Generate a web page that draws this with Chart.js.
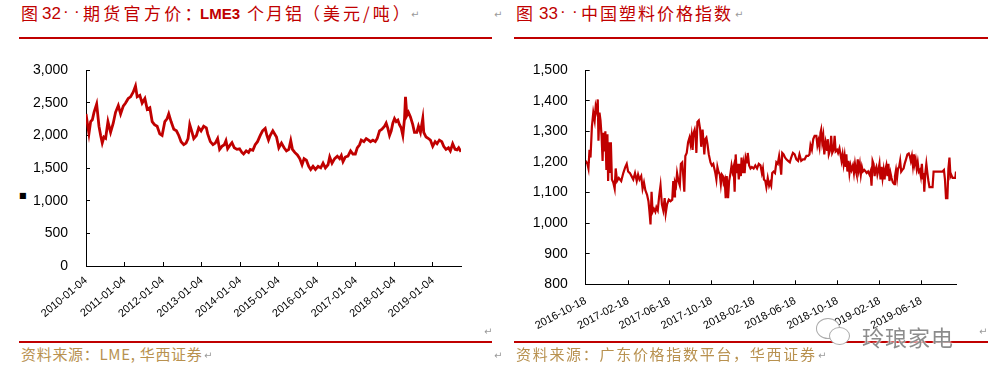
<!DOCTYPE html>
<html><head><meta charset="utf-8">
<script src="https://cdn.jsdelivr.net/npm/chart.js@4.4.1/dist/chart.umd.min.js"></script>
<style>
html,body{margin:0;padding:0;background:#fff;}
body{width:989px;height:379px;position:relative;overflow:hidden;font-family:'Noto Sans CJK SC',sans-serif;}
.abs{position:absolute;white-space:nowrap;}
.t{position:absolute;white-space:nowrap;color:#C00000;font-size:17px;line-height:20px;top:3px;}
.tl{font-family:'Liberation Sans',Arial,sans-serif;}
.rule{position:absolute;height:2px;background:#C00000;}
.src{color:#B8914F;font-size:15px;line-height:18px;top:345px;}
.mark{position:absolute;color:#9a9a9a;font:10px 'DejaVu Sans',sans-serif;line-height:10px;}
canvas{position:absolute;}
</style></head><body>

<span class="t" style="left:21px">图</span>
<span class="t tl" style="left:42px;top:4px">32</span>
<span class="t tl" style="left:63px;top:2px">·</span>
<span class="t tl" style="left:74px;top:2px">·</span>
<span class="t" style="left:83px;letter-spacing:3.3px">期货官方价：</span>
<span class="t tl" style="left:200px;top:4px;font-size:15px;font-weight:bold">LME3</span>
<span class="t" style="left:247px;letter-spacing:2px">个月铝</span>
<span class="t" style="left:303px;letter-spacing:3px">（美元/吨）</span>

<span class="t" style="left:516px">图</span>
<span class="t tl" style="left:539px;top:4px">33</span>
<span class="t tl" style="left:560px;top:2px">·</span>
<span class="t tl" style="left:572px;top:2px">·</span>
<span class="t" style="left:581px;letter-spacing:2px">中国塑料价格指数</span>

<span class="mark" style="left:411px;top:10px">↵</span>
<span class="mark" style="left:494px;top:10px">↵</span>
<span class="mark" style="left:735px;top:10px">↵</span>
<div class="rule" style="left:19px;width:473px;top:37px"></div>
<div class="rule" style="left:514px;width:474px;top:37px"></div>

<span class="abs" style="left:19px;top:191px;font:8px 'DejaVu Sans';color:#000">■</span>

<canvas id="c1" width="495" height="300" style="left:0;top:40px"></canvas>
<canvas id="c2" width="489" height="300" style="left:500px;top:40px"></canvas>

<div class="rule" style="left:19px;width:473px;top:341px"></div>
<div class="rule" style="left:514px;width:474px;top:341px"></div>
<span class="mark" style="left:484px;top:327px">↵</span>
<span class="mark" style="left:979px;top:327px">↵</span>
<div class="abs src" style="left:21px;letter-spacing:0.7px">资料来源：LME, 华西证券</div>
<div class="abs src" style="left:516px;letter-spacing:1.7px">资料来源：广东价格指数平台，华西证券</div>
<span class="mark" style="left:204px;top:351px">↵</span>
<span class="mark" style="left:818px;top:351px">↵</span>
<span class="mark" style="left:494px;top:351px">↵</span>

<div style="position:absolute;left:816px;top:318px;width:22px;height:19px;border:1.5px solid #aaa;border-radius:50%;background:#fff;"></div>
<div style="position:absolute;left:829px;top:327px;width:19px;height:16px;border:1.5px solid #aaa;border-radius:50%;background:#fff;"></div>
<div class="abs" style="left:862px;top:323px;font-size:22px;line-height:26px;color:#8c8c8c;letter-spacing:1px;text-shadow:0 0 2px #fff,0 0 2px #fff;">玲琅家电</div>

<script>
// ---- Chart 1: LME 3-month aluminium (USD/t) ----
const alDates = [
'2010-01-04','2010-02-01','2010-02-17','2010-03-05','2010-03-21','2010-04-15','2010-05-07','2010-05-23','2010-06-07','2010-06-23',
'2010-07-09','2010-07-31','2010-08-25','2010-09-19','2010-10-11','2010-11-06','2010-11-28','2010-12-23','2011-01-14','2011-02-08',
'2011-03-02','2011-03-27','2011-04-18','2011-05-04','2011-05-29','2011-06-20','2011-07-16','2011-08-07','2011-09-01','2011-09-23',
'2011-10-15','2011-11-09','2011-12-04','2011-12-26','2012-01-21','2012-02-12','2012-02-27','2012-03-20','2012-04-15','2012-05-10',
'2012-06-01','2012-06-23','2012-07-18','2012-08-09','2012-08-28','2012-09-13','2012-10-05','2012-10-21','2012-11-15','2012-12-07',
'2012-12-29','2013-01-23','2013-02-17','2013-03-02','2013-03-27','2013-04-21','2013-05-13','2013-06-04','2013-06-23','2013-07-15',
'2013-08-06','2013-08-22','2013-09-07','2013-10-02','2013-10-18','2013-11-09','2013-12-04','2013-12-29','2014-01-20','2014-02-05',
'2014-03-02','2014-03-24','2014-04-09','2014-05-04','2014-05-26','2014-06-17','2014-07-13','2014-08-04','2014-08-29','2014-09-14',
'2014-09-29','2014-10-15','2014-11-09',
'2014-12-14','2015-01-05','2015-01-30','2015-02-24','2015-03-18','2015-04-10','2015-04-28','2015-05-14','2015-06-05','2015-06-30',
'2015-07-22','2015-08-13','2015-09-01','2015-09-23','2015-10-15','2015-11-03','2015-11-25','2015-12-18','2016-01-12','2016-02-06',
'2016-02-28','2016-03-21','2016-04-15','2016-05-01','2016-05-23','2016-06-17','2016-07-12','2016-08-03','2016-08-19','2016-09-04',
'2016-09-26','2016-10-21','2016-11-15','2016-12-07','2016-12-30','2017-01-17','2017-02-08','2017-02-24','2017-03-21','2017-04-12',
'2017-05-04','2017-05-23','2017-06-14','2017-07-07','2017-07-25','2017-08-16','2017-09-08','2017-10-03','2017-10-18','2017-11-03',
'2017-11-19','2017-12-05','2017-12-20','2018-01-05','2018-01-21','2018-02-06','2018-02-21','2018-03-09','2018-03-25','2018-04-10',
'2018-04-19','2018-05-02','2018-05-17','2018-06-05','2018-06-27','2018-07-13','2018-08-04','2018-08-20','2018-09-08','2018-09-30',
'2018-10-09','2018-10-31','2018-11-23','2018-12-11','2019-01-02','2019-01-25','2019-02-12','2019-03-06','2019-03-29','2019-04-16',
'2019-05-08','2019-05-31','2019-06-18','2019-07-10','2019-08-02','2019-08-20','2019-09-05','2019-09-27'];
const alValues = [
2330,2030,2215,2243,2357,2485,2144,2002,1888,1978,
1960,2215,2050,2190,2357,2461,2333,2452,2499,2570,
2594,2665,2760,2594,2617,2499,2570,2404,2428,2215,
2168,2144,2026,2002,2215,2262,2333,2215,2097,2073,
2002,1907,1860,1884,1955,2168,2050,1955,2002,2120,
2073,2144,2120,2026,1907,1860,1884,1955,1789,1836,
1860,1922,1798,1860,1893,1813,1789,1798,1742,1718,
1765,1742,1789,1775,1860,1907,2002,2073,2111,2002,
1931,2002,2073,
1978,1813,1884,1813,1765,1789,1922,1789,1742,1704,
1647,1553,1647,1623,1529,1481,1529,1481,1529,1505,
1576,1505,1553,1671,1576,1647,1685,1647,1694,1600,
1671,1685,1765,1718,1718,1813,1860,1931,1907,1955,
1931,1907,1931,1907,1955,2073,2097,2144,2191,2111,
2002,2073,2191,2262,2215,2238,2168,2120,2002,2262,
2594,2309,2357,2286,2168,2050,2050,2144,2050,2262,
2050,1978,1955,1931,1836,1907,1875,1931,1907,1836,
1789,1813,1765,1875,1789,1780,1813,1751];
const alTickLabels = ['2010-01-04','2011-01-04','2012-01-04','2013-01-04','2014-01-04','2015-01-04','2016-01-04','2017-01-04','2018-01-04','2019-01-04'];

// ---- Chart 2: China plastics price index ----
const plBaseDate = '2016-10-18';
const plDays = [
0,5,8,11,14,18,22,26,29,32,35,37,40,43,46,49,51,54,57,60,
63,65,68,70,73,76,80,84,87,91,96,103,109,115,119,123,128,133,138,143,
148,152,156,161,165,169,173,178,182,185,188,191,194,198,202,205,209,213,217,221,
225,229,232,236,241,246,251,254,257,259,262,265,269,273,276,280,283,286,289,293,
297,301,304,307,310,313,316,319,321,324,328,332,335,339,342,344,347,350,353,357,
362,366,370,373,376,379,382,385,389,392,395,398,400,403,406,409,413,416,420,423,
426,429,432,435,438,441,444,447,450,452,455,458,461,464,468,470,474,478,482,487,
492,497,502,507,511,514,517,521,524,528,532,535,
538,541,545,549,553,557,561,564,567,570,574,578,582,587,592,596,601,606,611,616,
620,625,630,635,640,645,649,652,656,660,664,669,672,675,678,681,683,686,689,692,
696,700,702,705,709,712,715,719,722,725,729,732,736,739,742,745,748,751,754,756,
759,762,765,768,771,775,778,781,784,786,789,792,795,798,801,804,808,812,815,819,
823,826,829,832,835,838,840,843,846,849,852,855,858,861,864,867,869,872,875,878,
881,884,887,891,895,897,900,903,906,909,912,915,918,922,925,929,933,937,940,943,
946,949,952,954,957,960,963,966,969,972,975,978,980,982,985,988,991,994,997,1006,
1009,1035,1039,1042,1045,1049,1052,1055,1058,1060,1064,1069,1072,1074];
const plValues = [
1204,1194,1179,1240,1215,1316,1362,1336,1382,1367,1405,1270,1362,1336,1286,1204,1296,1235,1301,1174,
1291,1138,1265,1164,1265,1143,1133,1113,1179,1138,1148,1138,1164,1184,1194,1169,1164,1154,1143,1164,
1138,1159,1143,1154,1113,1133,1108,1093,1072,1037,996,1103,1037,1047,1037,1052,1042,1088,1123,1062,
1042,1082,1032,1062,1077,1072,1077,1138,1088,1133,1123,1164,1138,1123,1194,1199,1154,1103,1220,1230,
1265,1280,1260,1286,1240,1296,1306,1280,1230,1331,1336,1306,1250,1306,1260,1225,1275,1280,1260,1225,
1199,1189,1194,1179,1164,1143,1184,1169,1159,1128,1159,1154,1133,1143,1082,1154,1082,1138,1164,1189,
1169,1184,1103,1225,1164,1194,1143,1194,1154,1215,1164,1194,1164,1215,1199,1230,1189,1179,1184,1179,
1189,1179,1194,1189,1164,1179,1143,1138,1118,1148,1123,1133,
1123,1164,1169,1164,1199,1194,1220,1194,1159,1230,1225,1215,1209,1204,1199,1215,1230,1225,1209,1204,
1225,1204,1209,1209,1220,1220,1225,1255,1240,1275,1286,1286,1255,1270,1250,1296,1306,1265,1286,1225,
1265,1240,1275,1225,1240,1286,1230,1240,1286,1235,1240,1230,1245,1225,1204,1225,1194,1220,1184,1225,
1169,1204,1164,1189,1174,1189,1164,1194,1169,1159,1209,1174,1194,1159,1184,1169,1174,1169,1164,1169,
1159,1169,1123,1204,1194,1154,1174,1184,1159,1174,1194,1143,1184,1148,1174,1143,1174,1189,1154,1194,
1138,1164,1148,1133,1128,1154,1174,1148,1179,1184,1204,1169,1174,1179,1194,1209,1225,1228,1220,1204,
1220,1189,1225,1194,1209,1179,1199,1169,1174,1154,1194,1143,1164,1103,1164,1194,1164,1138,1118,1118,
1169,1169,1174,1143,1082,1082,1179,1215,1154,1159,1148,1148,1148,1169];
const plTickLabels = ['2016-10-18','2017-02-18','2017-06-18','2017-10-18','2018-02-18','2018-06-18','2018-10-18','2019-02-18','2019-06-18'];

const DAY = 86400000;
const tickFont = {family:"'Liberation Sans', Arial, sans-serif"};
const RED = '#C00000';

function axisGrid(){
  return {display:true, drawOnChartArea:false, drawTicks:true, tickLength:-4, color:'#000', lineWidth:1};
}
function axisBorder(){ return {display:true, color:'#000', width:1}; }

// Chart 1
const alTicks = alTickLabels.map(d => Date.parse(d));
new Chart(document.getElementById('c1'), {
  type:'line',
  data:{datasets:[{
    data: alDates.map((d,i)=>({x:Date.parse(d), y:alValues[i]})),
    borderColor:RED, borderWidth:2.8, pointRadius:0, tension:0, fill:false
  }]},
  options:{
    animation:false, responsive:false,
    layout:{padding:{left:0,right:34,top:14.5,bottom:0}},
    plugins:{legend:{display:false}, tooltip:{enabled:false}},
    scales:{
      x:{type:'linear', min:Date.parse(alDates[0]), max:Date.parse(alDates[alDates.length-1]),
        afterBuildTicks:s=>{ s.ticks = alTicks.map(v=>({value:v})); },
        afterFit:s=>{ s.height = 74; },
        ticks:{autoSkip:false, minRotation:40, maxRotation:40, padding:12, color:'#000',
          font:{...tickFont, size:11}, callback:(v,i)=>alTickLabels[i]},
        grid:axisGrid(), border:axisBorder()},
      y:{min:0, max:3000,
        afterFit:s=>{ s.width = 86; },
        ticks:{stepSize:500, padding:22, color:'#000', font:{...tickFont, size:14}},
        grid:axisGrid(), border:axisBorder()}
    }
  }
});

// Chart 2
const plTicks = plTickLabels.map(d => (Date.parse(d)-Date.parse(plBaseDate))/DAY);
new Chart(document.getElementById('c2'), {
  type:'line',
  data:{datasets:[{
    data: plDays.map((d,i)=>({x:d, y:plValues[i]})),
    borderColor:RED, borderWidth:2.2, pointRadius:0, tension:0, fill:false
  }]},
  options:{
    animation:false, responsive:false,
    layout:{padding:{left:0,right:33,top:14.7,bottom:0}},
    plugins:{legend:{display:false}, tooltip:{enabled:false}},
    scales:{
      x:{type:'linear', min:0, max:plDays[plDays.length-1],
        afterBuildTicks:s=>{ s.ticks = plTicks.map(v=>({value:v})); },
        afterFit:s=>{ s.height = 55.7; },
        ticks:{autoSkip:false, minRotation:28, maxRotation:28, padding:14, color:'#000',
          font:{...tickFont, size:11}, callback:(v,i)=>plTickLabels[i]},
        grid:axisGrid(), border:axisBorder()},
      y:{min:800, max:1500,
        afterFit:s=>{ s.width = 85.7; },
        ticks:{stepSize:100, padding:22, color:'#000', font:{...tickFont, size:14}},
        grid:axisGrid(), border:axisBorder()}
    }
  }
});
</script>
</body></html>
